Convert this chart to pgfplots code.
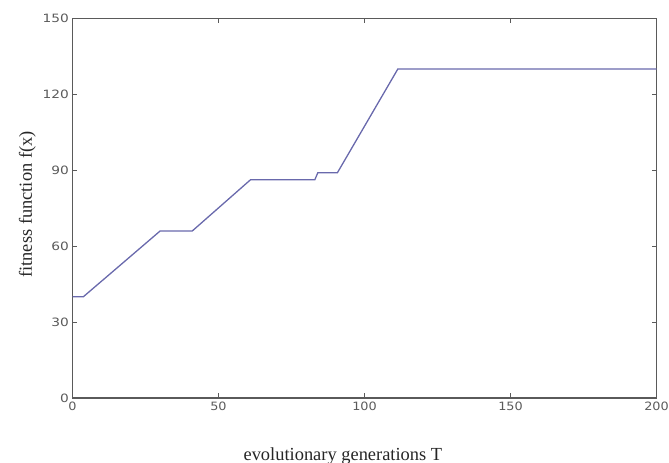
\documentclass[border=0pt]{standalone}
\usepackage{fontspec}
\setmainfont{Liberation Serif}
\newfontfamily\tickfont{DejaVu Sans}
\usepackage{graphicx}
\usepackage{pgfplots}
\pgfplotsset{compat=1.18}
\definecolor{axgray}{RGB}{90,90,90}
\definecolor{curve}{RGB}{105,105,172}
\begin{document}
\begin{tikzpicture}
\useasboundingbox (-72.5bp,-65bp) rectangle (596.5bp,398bp);
\begin{axis}[
  at={(0,0)}, anchor=south west,
  scale only axis, width=584bp, height=379.5bp,
  xmin=0, xmax=200, ymin=0, ymax=150,
  xtick={0,50,100,150,200}, ytick={0,30,60,90,120,150},
  /pgf/number format/assume math mode=true,
  tick align=inside, major tick length=5bp,
  axis line style={axgray, line width=1.4bp},
  every tick/.style={axgray, line width=1bp},
  xticklabel={\scalebox{1.12}[1]{\pgfmathprintnumber{\tick}}},
  yticklabel={\scalebox{1.2}[1]{\pgfmathprintnumber{\tick}}},
  tick label style={font=\fontsize{11.5}{12}\tickfont, text=axgray},
  xlabel={evolutionary generations T},
  ylabel={fitness function f(x)},
  label style={font=\fontsize{18.5}{20}\selectfont, text=black!85},
  xlabel style={at={([yshift=-62bp]axis description cs:0.463,0)}, anchor=base},
  ylabel style={at={([xshift=-40.5bp]axis description cs:0,0.51)}, anchor=base},
]
\addplot[curve, line width=1.3bp] coordinates {
  (0,40) (3.7,40) (30,66) (41,66) (61,86.3) (83,86.3) (84,89) (90.7,89) (111.4,130) (200,130)
};
\end{axis}
\end{tikzpicture}
\end{document}
